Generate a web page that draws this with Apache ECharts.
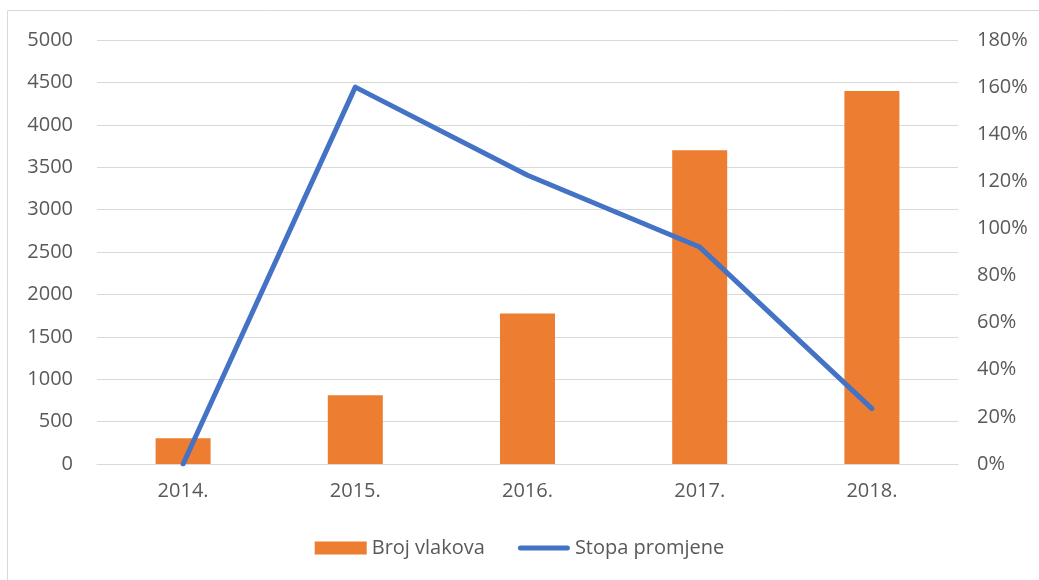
<!DOCTYPE html>
<html>
<head>
<meta charset="utf-8">
<script src="https://cdn.jsdelivr.net/npm/echarts@6/dist/echarts.min.js"></script>
<style>
  html, body { margin: 0; padding: 0; background: #fff; }
  #chart-container { width: 1039px; height: 580px; }
</style>
</head>
<body>
<div id="chart-container"></div>
<script>
// data
const years = ["2014.", "2015.", "2016.", "2017.", "2018."];
const brojVlakova = [305, 810, 1775, 3700, 4400];
const stopaPromjene = [0, 160, 122.6, 92.1, 23.5]; // u postocima

const textColor = "#595959";
const fontFamily = "'Open Sans', 'Liberation Sans', sans-serif";

let dom = document.getElementById("chart-container");
let myChart = echarts.init(dom, null, { renderer: "canvas" });

let option = {
    animation: false,
    backgroundColor: "#fff",
    textStyle: { fontFamily: fontFamily },
    graphic: [{
        type: "rect",
        shape: { x: 7.5, y: 10.5, width: 1100, height: 700 },
        style: { fill: "none", stroke: "#d9d9d9", lineWidth: 1 },
        silent: true,
    }],
    grid: {
        left: 97,
        right: 81,
        top: 40,
        bottom: 116,
    },
    legend: {
        bottom: 17,
        left: "center",
        itemWidth: 52,
        itemHeight: 13,
        itemGap: 33,
        textStyle: { color: textColor, fontSize: 20, fontFamily: fontFamily },
        data: [
            { name: "Broj vlakova", icon: "rect" },
            { name: "Stopa promjene", icon: "path://M2.5,0 H49.5 A2.5,2.5 0 0 1 49.5,5 H2.5 A2.5,2.5 0 0 1 2.5,0 Z" },
        ],
    },
    xAxis: {
        type: "category",
        data: years,
        axisLine: { lineStyle: { color: "#d9d9d9", width: 1 } },
        axisTick: { show: false },
        axisLabel: { color: textColor, fontSize: 20, margin: 17 },
    },
    yAxis: [{
        type: "value",
        min: 0,
        max: 5000,
        interval: 500,
        axisLabel: {
            color: textColor,
            fontSize: 20,
            margin: 24,
            formatter: function (v) { return String(v); },
        },
        splitLine: { lineStyle: { color: "#d9d9d9", width: 1 } },
    }, {
        type: "value",
        min: 0,
        max: 180,
        interval: 20,
        axisLabel: { color: textColor, fontSize: 20, margin: 19, formatter: "{value}%" },
        splitLine: { show: false },
    }],
    series: [{
        name: "Broj vlakova",
        type: "bar",
        data: brojVlakova,
        barWidth: 55,
        itemStyle: { color: "#ED7D31" },
    }, {
        name: "Stopa promjene",
        type: "line",
        yAxisIndex: 1,
        data: stopaPromjene,
        symbol: "none",
        lineStyle: { color: "#4472C4", width: 5, cap: "round", join: "round" },
        itemStyle: { color: "#4472C4" },
    }],
};

myChart.setOption(option);
window.addEventListener("resize", myChart.resize);
</script>
</body>
</html>
